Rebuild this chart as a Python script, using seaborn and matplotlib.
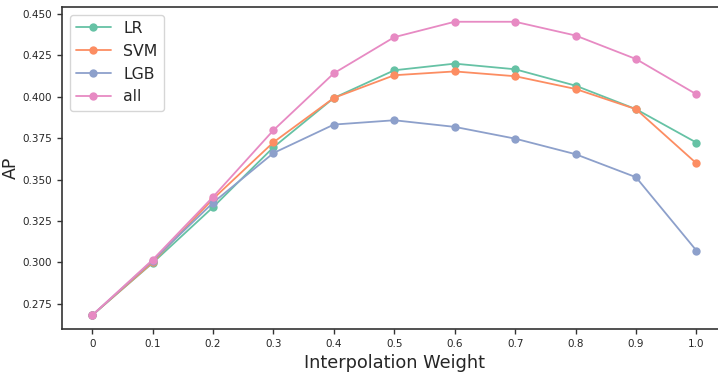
import matplotlib
matplotlib.use("Agg")
import matplotlib.pyplot as plt
import seaborn as sns
import pandas as pd

weights = [0, 0.1, 0.2, 0.3, 0.4, 0.5, 0.6, 0.7, 0.8, 0.9, 1.0]
tick_labels = ["0", "0.1", "0.2", "0.3", "0.4", "0.5", "0.6", "0.7", "0.8", "0.9", "1.0"]
lr = [0.268, 0.2996, 0.3333, 0.3695, 0.3993, 0.4160, 0.4200, 0.4166, 0.4067, 0.3925, 0.3723]
svm = [0.268, 0.3000, 0.3383, 0.3725, 0.3993, 0.4130, 0.4153, 0.4124, 0.4047, 0.3925, 0.3598]
lgb = [0.268, 0.3010, 0.3360, 0.3660, 0.3832, 0.3858, 0.3818, 0.3747, 0.3653, 0.3514, 0.3071]
all_ = [0.268, 0.3015, 0.3395, 0.3798, 0.4142, 0.4360, 0.4453, 0.4453, 0.4370, 0.4228, 0.4015]
series_names = ["LR", "SVM", "LGB", "all"]

df = pd.DataFrame({"w": weights * 4,
                   "AP": lr + svm + lgb + all_,
                   "model": sum([[n] * len(weights) for n in series_names], [])})

sns.set_style("ticks")
plt.rcParams["font.family"] = ["DejaVu Sans"]

fig = plt.figure(figsize=(7.18, 3.73), dpi=100)
ax = fig.add_axes([62 / 718, 1 - 329 / 373, 664.6 / 718, (329 - 6.7) / 373])
sns.lineplot(data=df, x="w", y="AP", hue="model", palette="Set2", marker="o",
             markersize=6, markeredgewidth=0, linewidth=1.3, ax=ax)
ax.set_xlim(-0.05, 1.05)
ax.set_ylim(0.2597, 0.4544)
ax.set_xticks(weights)
ax.set_xticklabels(tick_labels)
ax.set_yticks([0.275, 0.300, 0.325, 0.350, 0.375, 0.400, 0.425, 0.450])
ax.set_yticklabels(["0.275", "0.300", "0.325", "0.350", "0.375", "0.400", "0.425", "0.450"])
ax.tick_params(labelsize=7.5, length=3.5, width=1.0, color="#333333")
for s in ax.spines.values():
    s.set_visible(True)
    s.set_color("#333333")
    s.set_linewidth(1.2)
ax.set_xlabel("Interpolation Weight", fontsize=12.8)
ax.set_ylabel("AP", fontsize=12.5)
ax.yaxis.set_label_coords(-0.064, 0.5)
leg = ax.legend(loc="upper left", fontsize=11.3, frameon=True, handlelength=2.2,
                borderaxespad=0.5)
fig.savefig("out.png", dpi=100)
